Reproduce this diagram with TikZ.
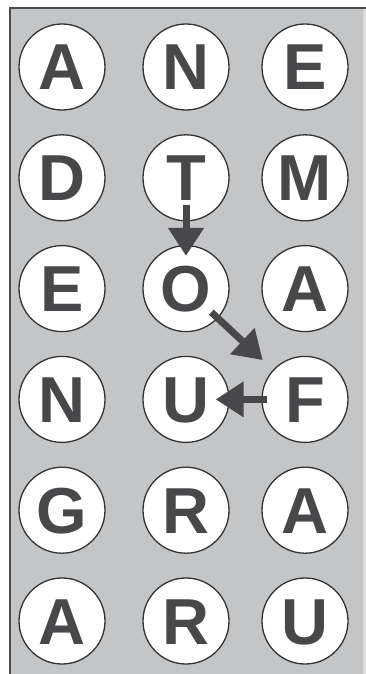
\documentclass[tikz,border=0pt]{standalone}
\usepackage{fontspec}
\setmainfont{Liberation Sans}
\usetikzlibrary{arrows.meta}
\definecolor{boardgray}{HTML}{C4C5C7}
\definecolor{inkgray}{HTML}{48484A}
\tikzset{
  tile/.style={
    circle,
    draw=black!80,
    line width=1.3pt,
    fill=white,
    minimum size=86pt,
    inner sep=0pt,
    font=\bfseries\fontsize{65}{65}\selectfont,
    text=inkgray,
    text height=46pt,
    text depth=0pt
  },
  jump/.style={
    -{Triangle[length=28pt,width=34pt]},
    draw=inkgray,
    line width=7pt
  }
}

\begin{document}
\begin{tikzpicture}[x=1pt,y=-1pt]
    \useasboundingbox (0,0) rectangle (366,674);
    % board
    \fill[boardgray] (10,8) rectangle (363,674);
    \fill[boardgray!60] (363,8) rectangle (366,674);
    \draw[black!70,line width=2pt] (10,674) -- (10,8) -- (366,8);

    % letter tiles
    \foreach \l [count=\i from 0] in {A,N,E,D,T,M,E,O,A,N,U,F,G,R,A,A,R,U} {
        \pgfmathtruncatemacro\col{mod(\i,3)}
        \pgfmathtruncatemacro\row{div(\i,3)}
        \pgfmathsetmacro\cx{{62,186,305}[\col]}
        \node[tile] (t\i) at (\cx,{67+110.8*\row}) {\l};
    }

    % path T -> O -> F -> U
    \draw[jump,shorten <=-16pt,shorten >=-11pt] (t4) -- (t7);
    \draw[jump,shorten <=-9pt,shorten >=14pt] (t7) -- (t11);
    \draw[jump,shorten <=-6pt,shorten >=-14pt] (t11) -- (t10);
\end{tikzpicture}
\end{document}
